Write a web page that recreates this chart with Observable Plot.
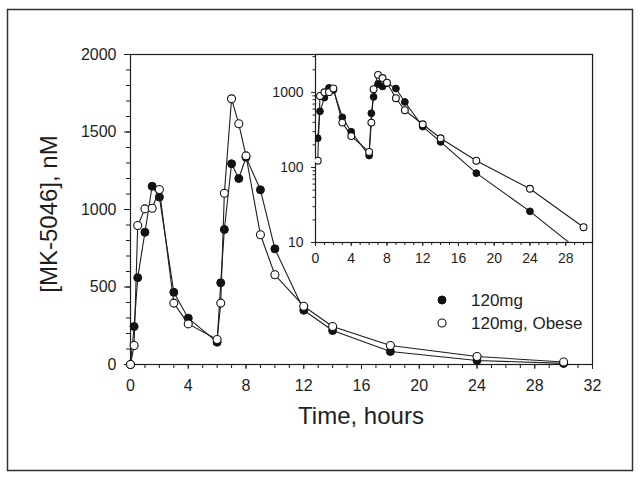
<!DOCTYPE html>
<html>
<head>
<meta charset="utf-8">
<script src="https://cdn.jsdelivr.net/npm/d3@7"></script>
<script src="https://cdn.jsdelivr.net/npm/@observablehq/plot@0.6"></script>
<style>
  html, body { margin: 0; padding: 0; background: #fff; }
  #wrap { position: relative; width: 642px; height: 480px; overflow: hidden; background: #fff; }
  #wrap > svg { position: absolute; left: 0; top: 0; }
</style>
</head>
<body>
<div id="wrap"></div>
<script>
// ---- data ----
const times = [0, 0.25, 0.5, 1, 1.5, 2, 3, 4, 6, 6.25, 6.5, 7, 7.5, 8, 9, 10, 12, 14, 18, 24, 30];
const conc120 = [0, 245, 560, 853, 1150, 1080, 466, 299, 144, 527, 871, 1295, 1200, 1337, 1127, 746, 350, 219, 84, 26, 7];
const conc120Obese = [0, 123, 897, 1004, 1008, 1129, 396, 262, 161, 396, 1105, 1714, 1553, 1346, 837, 579, 376, 245, 123, 52, 16];
const seriesNames = ["120mg", "120mg, Obese"];
const mainXTicks = [0, 4, 8, 12, 16, 20, 24, 28, 32];
const mainYTicks = [0, 500, 1000, 1500, 2000];
const insetXTicks = [0, 4, 8, 12, 16, 20, 24, 28];
const insetYTicks = [10, 100, 1000];
const xTitle = "Time, hours";
const yTitle = "[MK-5046], nM";

const filled = times.map((t, i) => ({t, v: conc120[i], s: seriesNames[0]}));
const open = times.map((t, i) => ({t, v: conc120Obese[i], s: seriesNames[1]}));

const ink = "#1e1e1e";
const font = "'Liberation Sans', Arial, sans-serif";
const wrap = document.getElementById("wrap");

// ---- main linear plot ----
const main = Plot.plot({
  width: 642, height: 480,
  marginLeft: 130, marginRight: 50, marginTop: 54, marginBottom: 116,
  x: {domain: [0, 32]},
  y: {domain: [0, 2000]},
  style: {fontFamily: font, fontSize: "16px", color: ink, background: "transparent", overflow: "visible"},
  marks: [
    Plot.frame({stroke: ink, strokeWidth: 1.2}),
    Plot.axisX({ticks: d3.range(0, 33, 1), tickSize: 4, tickFormat: () => "", label: null}),
    Plot.axisX({ticks: mainXTicks, tickSize: 5, tickPadding: 10, label: null}),
    Plot.axisY({ticks: d3.range(0, 2001, 100), tickSize: 4, tickFormat: () => "", label: null}),
    Plot.axisY({ticks: mainYTicks, tickSize: 6, tickPadding: 8, tickFormat: d3.format("d"), label: null}),
    Plot.line(filled, {x: "t", y: "v", stroke: ink, strokeWidth: 1.1}),
    Plot.dot(filled, {x: "t", y: "v", r: 4, fill: "#111", stroke: "#111", strokeWidth: 1}),
    Plot.line(open, {x: "t", y: "v", stroke: ink, strokeWidth: 1.1}),
    Plot.dot(open, {x: "t", y: "v", r: 4, fill: "white", stroke: "#111", strokeWidth: 1.1})
  ]
});
wrap.appendChild(main);

// ---- inset log plot ----
const filledPos = filled.filter(d => d.v > 0);
const openPos = open.filter(d => d.v > 0);
const inset = Plot.plot({
  width: 642, height: 480,
  marginLeft: 315, marginRight: 50, marginTop: 54, marginBottom: 238,
  x: {domain: [0, 31]},
  y: {type: "log", domain: [10, 3200]},
  style: {fontFamily: font, fontSize: "14px", color: ink, background: "transparent", overflow: "visible"},
  marks: [
    Plot.frame({fill: "white", stroke: ink, strokeWidth: 1.2}),
    Plot.axisX({ticks: d3.range(0, 32, 1), tickSize: 3, tickFormat: () => "", label: null}),
    Plot.axisX({ticks: insetXTicks, tickSize: 4, tickPadding: 7, label: null}),
    Plot.axisY({ticks: [20,30,40,50,60,70,80,90,200,300,400,500,600,700,800,900,2000,3000], tickSize: 2.5, tickFormat: () => "", label: null}),
    Plot.axisY({ticks: insetYTicks, tickSize: 4, tickPadding: 8, tickFormat: d3.format("d"), label: null}),
    Plot.line(filledPos, {x: "t", y: "v", stroke: ink, strokeWidth: 1.1, clip: true}),
    Plot.dot(filledPos, {x: "t", y: "v", r: 3.4, fill: "#111", stroke: "#111", strokeWidth: 1, clip: true}),
    Plot.line(openPos, {x: "t", y: "v", stroke: ink, strokeWidth: 1.1, clip: true}),
    Plot.dot(openPos, {x: "t", y: "v", r: 3.4, fill: "white", stroke: "#111", strokeWidth: 1.1, clip: true})
  ]
});
wrap.appendChild(inset);

// ---- titles, legend, outer border ----
const ns = "http://www.w3.org/2000/svg";
const over = document.createElementNS(ns, "svg");
over.setAttribute("width", 642);
over.setAttribute("height", 480);
over.style.fontFamily = font;
over.style.pointerEvents = "none";
function el(tag, attrs, text) {
  const e = document.createElementNS(ns, tag);
  for (const k in attrs) e.setAttribute(k, attrs[k]);
  if (text != null) e.textContent = text;
  over.appendChild(e);
  return e;
}
el("rect", {x: 7.5, y: 9.5, width: 625, height: 461, fill: "none", stroke: "#333", "stroke-width": 1.5});
el("text", {x: 361, y: 424, "text-anchor": "middle", "font-size": 24, fill: ink}, xTitle);
el("text", {transform: "translate(57,214) rotate(-90)", "text-anchor": "middle", "font-size": 24, fill: ink}, yTitle);
// legend
el("circle", {cx: 442, cy: 300, r: 4, fill: "#111", stroke: "#111"});
el("text", {x: 471, y: 306, "font-size": 17, fill: ink}, seriesNames[0]);
el("circle", {cx: 442, cy: 323, r: 4, fill: "white", stroke: "#111", "stroke-width": 1.1});
el("text", {x: 471, y: 329, "font-size": 17, fill: ink}, seriesNames[1]);
wrap.appendChild(over);
</script>
</body>
</html>
